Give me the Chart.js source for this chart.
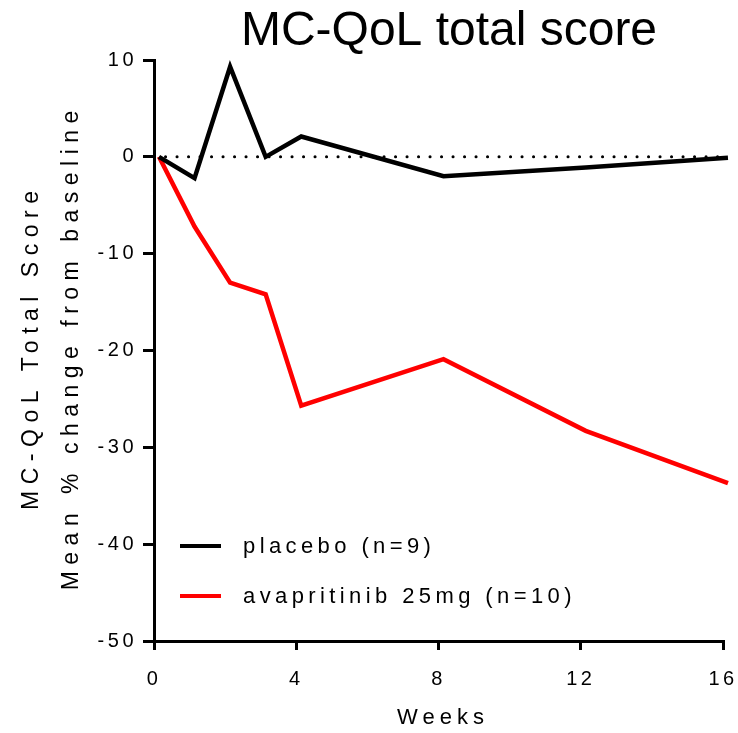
<!DOCTYPE html>
<html>
<head>
<meta charset="utf-8">
<script src="https://cdn.jsdelivr.net/npm/chart.js@4.4.1/dist/chart.umd.min.js"></script>
<style>
    html, body { margin: 0; padding: 0; background: #fff; }
    #wrap { width: 738px; height: 733px; position: relative; }
</style>
</head>
<body>
<div id="wrap"><canvas id="qol"></canvas></div>
<script>
// MC-QoL total score — mean % change from baseline by week.
// Visits sit at study day 1, 8, 15, ... so they land just right of the whole weeks.
const weeks = [0.14, 1.14, 2.14, 3.14, 4.14, 8.14, 12.14, 16.14];
const placebo = [0, -2.2, 9.3, 0, 2.1, -2.0, -1.1, -0.1];
const avapritinib = [0, -7.2, -13.0, -14.2, -25.7, -20.9, -28.3, -33.7];
const baselineX = [0, 16.14];
const baselineY = [0, 0];
const xTicks = [0, 4, 8, 12, 16];
const seriesLabels = ['placebo (n=9)', 'avapritinib 25mg (n=10)'];

const FONT = '"Liberation Sans", Arial, Helvetica, sans-serif';
const toPoints = (xs, ys) => xs.map((x, i) => ({ x, y: ys[i] }));

function spacedText(ctx, text, x, y, spacing, align) {
    ctx.letterSpacing = spacing + 'px';
    // trailing spacing shifts centred text; compensate by half a gap
    const dx = align === 'center' ? spacing / 2 : 0;
    ctx.textAlign = align;
    ctx.fillText(text, x + dx, y);
}

// Text the library can't place where the figure has it: title, axis titles, inset legend.
const decorations = {
    id: 'decorations',
    beforeDraw(chart) {
        chart.ctx.letterSpacing = '3.5px';
    },
    afterDraw(chart) {
        const { ctx, chartArea: a } = chart;
        const cy = (a.top + a.bottom) / 2;
        const cx = (a.left + a.right) / 2;
        ctx.save();
        ctx.fillStyle = '#000';
        ctx.textBaseline = 'alphabetic';

        ctx.font = `48px ${FONT}`;
        spacedText(ctx, 'MC-QoL total score', 449, 45, 0, 'center');

        ctx.font = `22px ${FONT}`;
        spacedText(ctx, 'Weeks', cx + 2, 724, 5, 'center');

        ctx.save();
        ctx.translate(0, cy);
        ctx.rotate(-Math.PI / 2);
        ctx.textBaseline = 'middle';
        ctx.font = `23px ${FONT}`;
        spacedText(ctx, 'MC-QoL Total Score', 0, 32, 6.5, 'center');
        spacedText(ctx, 'Mean % change from baseline', 0, 72, 6.5, 'center');
        ctx.restore();

        // legend
        const colors = ['#000000', '#ff0000'];
        const rows = [546, 596];
        ctx.font = `22px ${FONT}`;
        ctx.textBaseline = 'middle';
        rows.forEach((ry, i) => {
            ctx.strokeStyle = colors[i];
            ctx.lineWidth = 4;
            ctx.beginPath();
            ctx.moveTo(180, ry);
            ctx.lineTo(221, ry);
            ctx.stroke();
            spacedText(ctx, seriesLabels[i], 243, ry + 1, 4.4, 'left');
        });
        ctx.restore();
    }
};

new Chart(document.getElementById('qol').getContext('2d'), {
    type: 'scatter',
    data: {
        datasets: [
            {
                label: 'baseline', data: toPoints(baselineX, baselineY), showLine: true, clip: false,
                borderColor: '#000', borderWidth: 3, borderDash: [0.1, 11.4], borderCapStyle: 'round',
                pointRadius: 0, order: 3
            },
            {
                label: seriesLabels[1], data: toPoints(weeks, avapritinib), showLine: true, clip: false,
                borderColor: '#ff0000', borderWidth: 4.5, pointRadius: 0, tension: 0, order: 2
            },
            {
                label: seriesLabels[0], data: toPoints(weeks, placebo), showLine: true, clip: false,
                borderColor: '#000', borderWidth: 4.5, pointRadius: 0, tension: 0, order: 1
            }
        ]
    },
    options: {
        responsive: true, maintainAspectRatio: false, animation: false,
        layout: { autoPadding: false, padding: { top: 60, right: 15, left: 0, bottom: 0 } },
        plugins: { legend: { display: false }, title: { display: false }, tooltip: { enabled: false } },
        scales: {
            x: {
                type: 'linear', min: 0, max: 16,
                afterBuildTicks: s => { s.ticks = xTicks.map(v => ({ value: v })); },
                afterFit: s => { s.height = 92; s.paddingLeft = 0; s.paddingRight = 0; },
                border: { color: '#000', width: 3 },
                grid: { drawOnChartArea: false, drawTicks: true, tickLength: 9, color: '#000', lineWidth: 3 },
                ticks: { color: '#000', font: { family: FONT, size: 20 }, padding: 17, maxRotation: 0 }
            },
            y: {
                min: -50, max: 10,
                afterFit: s => { s.width = 154; s.paddingTop = 0; s.paddingBottom = 0; },
                border: { color: '#000', width: 3 },
                grid: { drawOnChartArea: false, drawTicks: true, tickLength: 11, color: '#000', lineWidth: 3 },
                ticks: { stepSize: 10, color: '#000', font: { family: FONT, size: 20 }, padding: 6 }
            }
        }
    },
    plugins: [decorations]
});
</script>
</body>
</html>
